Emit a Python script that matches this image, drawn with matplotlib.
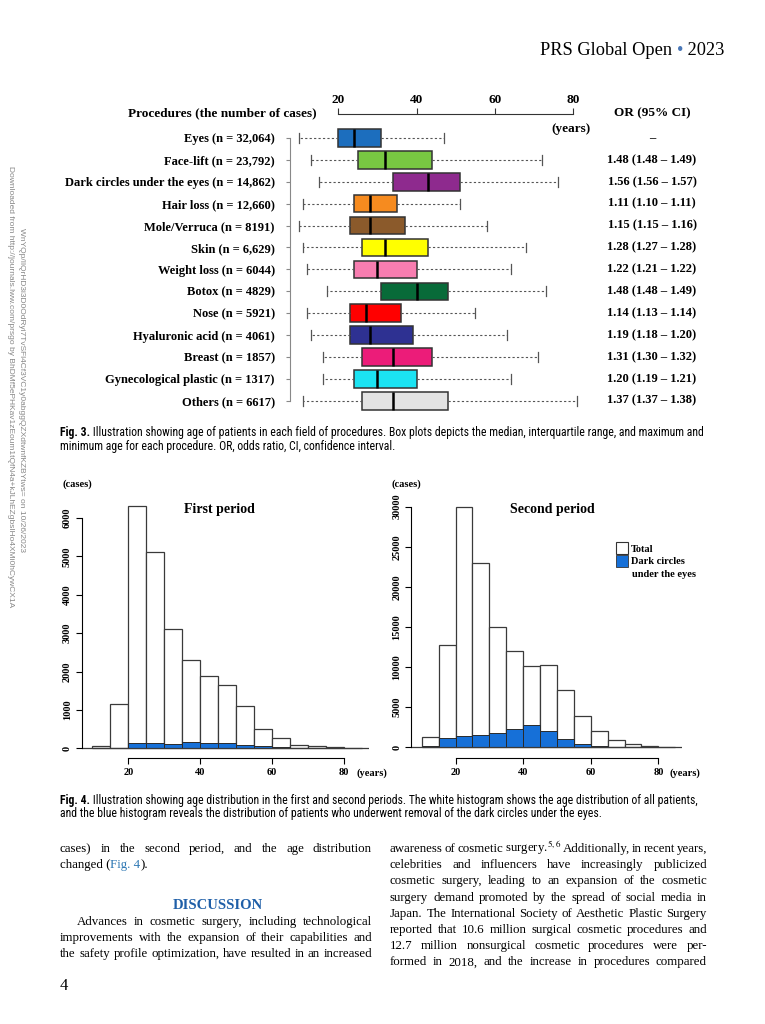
import matplotlib
matplotlib.use("Agg")
import matplotlib.pyplot as plt
from matplotlib import font_manager
from matplotlib.lines import Line2D
import numpy as np


def pick(names):
    for n in names:
        try:
            font_manager.findfont(n, fallback_to_default=False)
            return n
        except Exception:
            pass
    return "DejaVu Sans"


SERIF = pick(["Liberation Serif", "DejaVu Serif"])
NARROW = pick(["Liberation Sans Narrow", "Roboto Condensed", "Liberation Sans"])
SANS = pick(["Liberation Sans", "DejaVu Sans"])
plt.rcParams["font.family"] = SERIF
plt.rcParams["mathtext.fontset"] = "stix"

# ---- data: Fig. 3 box plots ----
procedures = ["Eyes (n = 32,064)", "Face-lift (n = 23,792)", "Dark circles under the eyes (n = 14,862)",
              "Hair loss (n = 12,660)", "Mole/Verruca (n = 8191)", "Skin (n = 6,629)",
              "Weight loss (n = 6044)", "Botox (n = 4829)", "Nose (n = 5921)",
              "Hyaluronic acid (n = 4061)", "Breast (n = 1857)", "Gynecological plastic (n = 1317)",
              "Others (n = 6617)"]
age_min = [10, 13, 15, 11, 10, 11, 12, 17, 12, 13, 16, 16, 11]
age_q1 = [20, 25, 34, 24, 23, 26, 24, 31, 23, 23, 26, 24, 26]
age_med = [24, 32, 43, 28, 28, 32, 30, 40, 27, 28, 34, 30, 34]
age_q3 = [31, 44, 51, 35, 37, 43, 40, 48, 36, 39, 44, 40, 48]
age_max = [47, 72, 76, 51, 58, 68, 64, 73, 55, 63, 71, 64, 81]
odds = ["\u2013", "1.48 (1.48 \u2013 1.49)", "1.56 (1.56 \u2013 1.57)", "1.11 (1.10 \u2013 1.11)",
        "1.15 (1.15 \u2013 1.16)", "1.28 (1.27 \u2013 1.28)", "1.22 (1.21 \u2013 1.22)",
        "1.48 (1.48 \u2013 1.49)", "1.14 (1.13 \u2013 1.14)", "1.19 (1.18 \u2013 1.20)",
        "1.31 (1.30 \u2013 1.32)", "1.20 (1.19 \u2013 1.21)", "1.37 (1.37 \u2013 1.38)"]
box_colors = ["#1C6EBE", "#78C842", "#8E2A8E", "#F68B1F", "#8B5A2B", "#FFFF00", "#F87DB0",
              "#086B39", "#FF0000", "#2E3192", "#EC1C79", "#1BE3F2", "#E3E3E3"]

# ---- data: Fig. 4 histograms ----
bin_edges = [10, 15, 20, 25, 30, 35, 40, 45, 50, 55, 60, 65, 70, 75, 80, 85]
first_total = [70, 1145, 6305, 5125, 3120, 2295, 1895, 1640, 1100, 500, 260, 85, 50, 25, 8]
first_dark = [0, 15, 145, 130, 120, 165, 140, 140, 85, 50, 25, 8, 0, 0, 0]
second_total = [1240, 12790, 30000, 22970, 15020, 11960, 10140, 10220, 7200, 3850, 1990, 870, 415, 165, 40]
second_dark = [165, 1120, 1410, 1530, 1820, 2280, 2770, 2030, 1080, 415, 210, 80, 20, 5, 0]

BLUE = "#1670D8"
LINK = "#2F78B4"

fig = plt.figure(figsize=(7.65, 10.24), dpi=100)
W, H = 765, 1024

page = fig.add_axes([0, 0, 1, 1])
page.set_xlim(0, W)
page.set_ylim(H, 0)
page.axis("off")


def chain(x, y, parts, **common):
    """Write text pieces one after another on a line."""
    t = None
    for s, kw in parts:
        opts = dict(common)
        opts.update(kw)
        if t is None:
            t = page.text(x, y, s, ha="left", va="baseline", **opts)
        else:
            t = page.annotate(s, xy=(1, 0), xycoords=t, va="bottom", ha="left", **opts)
    return t


def justify(x0, x1, y, line, **kw):
    words = line.split()
    texts = [page.text(0, y, w, va="baseline", **kw) for w in words]
    r = fig.canvas.get_renderer()
    widths = [t.get_window_extent(r).width for t in texts]
    gap = (x1 - x0 - sum(widths)) / max(len(words) - 1, 1)
    x = x0
    for t, w in zip(texts, widths):
        t.set_x(x)
        x += w + gap


# ---- header ----
chain(540, 55, [("PRS Global Open ", {}), ("\u2022", {"color": "#4A78B8"}), (" 2023", {})],
      fontsize=13.2, family=SERIF)

# ---- watermark ----
page.text(11, 166, "Downloaded from http://journals.lww.com/prsgo by BhDMf5ePHKav1zEoum1tQfN4a+kJLhEZgbsIHo4XMi0hCywCX1A",
          rotation=-90, fontsize=6.0, color="#888888", family=SANS, ha="left", va="center", rotation_mode="anchor")
page.text(22, 228, "WnYQp/IlQrHD3i3D0OdRyi7TvSFl4Cf3VC1y0abggQZXdtwnfKZBYtws= on 10/26/2023",
          rotation=-90, fontsize=6.0, color="#888888", family=SANS, ha="left", va="center", rotation_mode="anchor")

# ---- Fig. 3 box plot ----
ax = fig.add_axes([279.5 / W, 1 - 416.1 / H, 313.4 / W, 302.2 / H])
ax.patch.set_visible(False)
stats = []
for lo, q1, md, q3, hi in zip(age_min, age_q1, age_med, age_q3, age_max):
    stats.append(dict(whislo=lo, q1=q1, med=md, q3=q3, whishi=hi, fliers=[]))
pos = np.arange(1, len(procedures) + 1)
bp = ax.bxp(stats, positions=pos, orientation="horizontal", widths=0.8, capwidths=0.45,
            patch_artist=True, showfliers=False, manage_ticks=False,
            boxprops=dict(edgecolor="#333333", linewidth=1.1),
            medianprops=dict(color="black", linewidth=1.8),
            whiskerprops=dict(color="#555555", linestyle=(0, (2, 2)), linewidth=0.8),
            capprops=dict(color="#555555", linewidth=0.9))
for patch, c in zip(bp["boxes"], box_colors):
    patch.set_facecolor(c)
ax.set_xlim(5, 85)
ax.set_ylim(13.7, -0.1)
for s in ["right", "bottom"]:
    ax.spines[s].set_visible(False)
ax.spines["top"].set_bounds(20, 80)
ax.spines["top"].set_color("#333333")
ax.spines["left"].set_position(("data", 7.7))
ax.spines["left"].set_bounds(1, 13)
ax.spines["left"].set_color("#888888")
ax.xaxis.tick_top()
ax.set_xticks([20, 40, 60, 80])
ax.tick_params(axis="x", length=4, pad=2, labelsize=9.5, color="#333333")
ax.set_yticks(pos)
ax.set_yticklabels(procedures)
ax.tick_params(axis="y", length=3, pad=8, labelsize=9.0, color="#888888")
for lab in ax.get_xticklabels() + ax.get_yticklabels():
    lab.set_fontweight("bold")
for i, s in zip(pos, odds):
    ax.text(100.1, i, s, ha="center", va="center", fontsize=9.0, fontweight="bold", clip_on=False)
page.text(222, 116, "Procedures (the number of cases)", ha="center", va="baseline", fontsize=9.5, fontweight="bold")
page.text(652, 116, "OR (95% CI)", ha="center", va="baseline", fontsize=9.5, fontweight="bold")
page.text(571, 132, "(years)", ha="center", va="baseline", fontsize=9.5, fontweight="bold")

CAP = dict(fontsize=8.5, family=NARROW)
chain(60, 436, [("Fig. 3.", {"fontweight": "bold"}),
                (" Illustration showing age of patients in each field of procedures. Box plots depicts the median, interquartile range, and maximum and", {})],
      **CAP)
page.text(60, 450, "minimum age for each procedure. OR, odds ratio, CI, confidence interval.", va="baseline", **CAP)


# ---- Fig. 4 histograms ----
def hist_panel(rect, xlim, ylim, total, dark, yticks, title, title_x):
    a = fig.add_axes(rect)
    a.patch.set_visible(False)
    a.bar(bin_edges[:-1], total, width=5, align="edge", facecolor="white", edgecolor="#3a3a3a", linewidth=0.9)
    a.bar(bin_edges[:-1], dark, width=5, align="edge", facecolor=BLUE, edgecolor="#2a2a2a", linewidth=0.7)
    a.axhline(0, color="#3a3a3a", linewidth=0.9)
    a.set_xlim(*xlim)
    a.set_ylim(*ylim)
    for s in ["right", "top"]:
        a.spines[s].set_visible(False)
    a.spines["left"].set_bounds(yticks[0], yticks[-1])
    a.spines["bottom"].set_bounds(20, 80)
    a.set_xticks([20, 40, 60, 80])
    a.set_yticks(yticks)
    a.set_yticklabels([str(v) for v in yticks], rotation=90, va="center")
    a.tick_params(length=4, labelsize=7.5, pad=3)
    for lab in a.get_xticklabels() + a.get_yticklabels():
        lab.set_fontweight("bold")
    page.text(title_x, 513, title, ha="center", va="baseline", fontsize=10, fontweight="bold")
    return a


ax1 = hist_panel([81.6 / W, 1 - 758 / H, 287.6 / W, 263.1 / H], (7, 87), (-250, 6600),
                 first_total, first_dark, [0, 1000, 2000, 3000, 4000, 5000, 6000], "First period", 219)
ax2 = hist_panel([411 / W, 1 - 758 / H, 271 / W, 263.1 / H], (6.8, 87), (-1329, 31467),
                 second_total, second_dark, [0, 5000, 10000, 15000, 20000, 25000, 30000], "Second period", 552)

for x in (77, 406):
    page.text(x, 487, "(cases)", ha="center", va="baseline", fontsize=7.5, fontweight="bold")
for x in (372, 685):
    page.text(x, 776, "(years)", ha="center", va="baseline", fontsize=7.5, fontweight="bold")

handles = [Line2D([], [], marker="s", linestyle="none", markersize=9, markerfacecolor="white",
                  markeredgecolor="#333333", markeredgewidth=0.8),
           Line2D([], [], marker="s", linestyle="none", markersize=9, markerfacecolor=BLUE,
                  markeredgecolor="#333333", markeredgewidth=0.6)]
ax2.legend(handles, ["Total", "Dark circles"], loc="upper left", bbox_to_anchor=(612 / W, 1 - 539 / H),
           bbox_transform=fig.transFigure, frameon=False, borderpad=0, handletextpad=0.3,
           labelspacing=0.35, handlelength=1.0, prop=dict(family=SERIF, weight="bold", size=7.5))
page.text(632, 577, "under the eyes", va="baseline", fontsize=7.5, fontweight="bold")

chain(60, 804, [("Fig. 4.", {"fontweight": "bold"}),
                (" Illustration showing age distribution in the first and second periods. The white histogram shows the age distribution of all patients,", {})],
      **CAP)
page.text(60, 817, "and the blue histogram reveals the distribution of patients who underwent removal of the dark circles under the eyes.",
          va="baseline", **CAP)

# ---- body text ----
BODY = dict(fontsize=9.3, family=SERIF)
justify(60, 372, 852, "cases) in the second period, and the age distribution", **BODY)
chain(60, 868, [("changed (", {}), ("Fig. 4", {"color": LINK}), (").", {})], **BODY)
page.text(218, 909, "DISCUSSION", ha="center", va="baseline", fontsize=10.5, fontweight="bold", color="#1F5FA8")
justify(77, 372, 925, "Advances in cosmetic surgery, including technological", **BODY)
justify(60, 372, 941, "improvements with the expansion of their capabilities and", **BODY)
justify(60, 372, 957, "the safety profile optimization, have resulted in an increased", **BODY)

right_lines = ["awareness of cosmetic surgery.$^{5,6}$ Additionally, in recent years,",
               "celebrities and influencers have increasingly publicized",
               "cosmetic surgery, leading to an expansion of the cosmetic",
               "surgery demand promoted by the spread of social media in",
               "Japan. The International Society of Aesthetic Plastic Surgery",
               "reported that 10.6 million surgical cosmetic procedures and",
               "12.7 million nonsurgical cosmetic procedures were per-",
               "formed in 2018, and the increase in procedures compared"]
for k, line in enumerate(right_lines):
    justify(390, 707, 852 + k * 16.2, line, **BODY)

page.text(60, 990, "4", va="baseline", fontsize=12)

fig.savefig("out.png", dpi=100)
